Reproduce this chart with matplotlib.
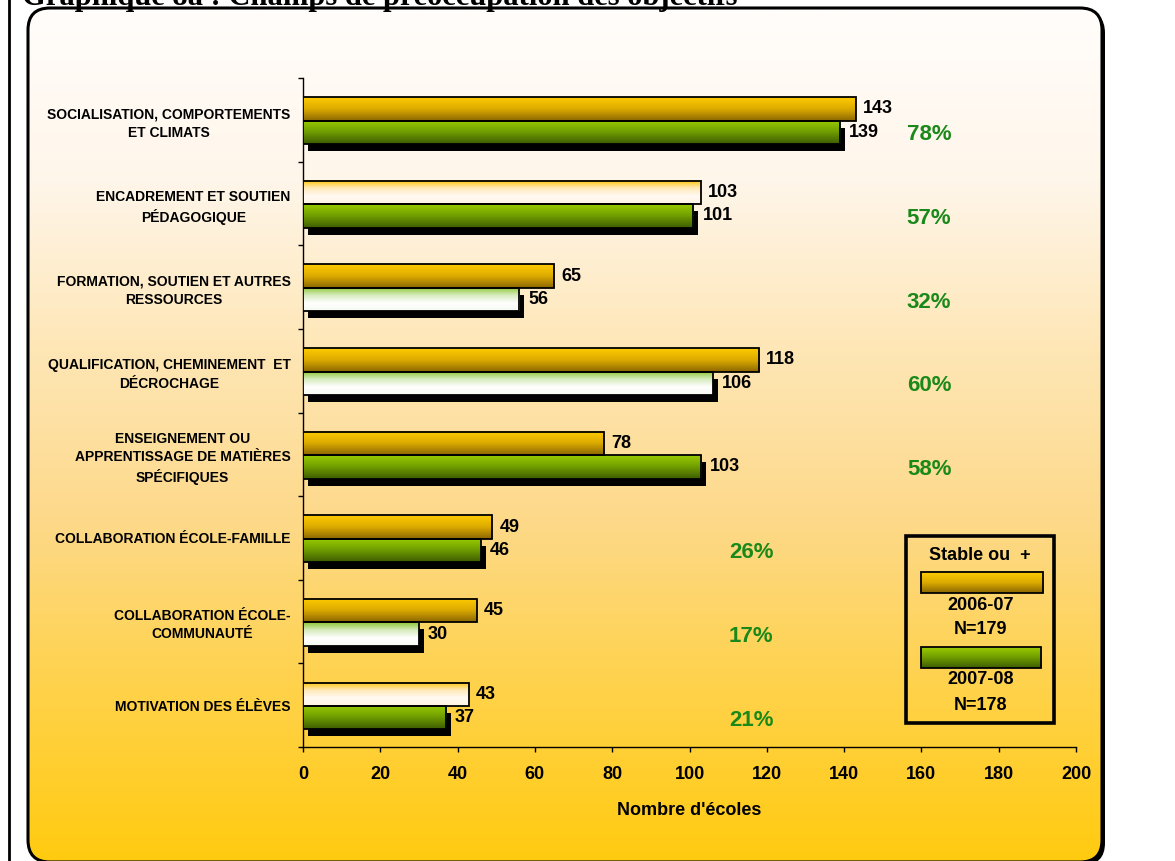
"""
Graphique 8a : champs de préoccupation des objectifs (barres horizontales, 2 années).
"""
import numpy as np
import matplotlib
matplotlib.use("Agg")
import matplotlib.pyplot as plt
from matplotlib.colors import LinearSegmentedColormap
from matplotlib.patches import FancyBboxPatch, Rectangle
from matplotlib.transforms import offset_copy

# --- données -------------------------------------------------------------
categories = [
    "SOCIALISATION, COMPORTEMENTS\nET CLIMATS",
    "ENCADREMENT ET SOUTIEN\nPÉDAGOGIQUE",
    "FORMATION, SOUTIEN ET AUTRES\nRESSOURCES",
    "QUALIFICATION, CHEMINEMENT  ET\nDÉCROCHAGE",
    "ENSEIGNEMENT OU\nAPPRENTISSAGE DE MATIÈRES\nSPÉCIFIQUES",
    "COLLABORATION ÉCOLE-FAMILLE",
    "COLLABORATION ÉCOLE-\nCOMMUNAUTÉ",
    "MOTIVATION DES ÉLÈVES",
]
ecoles_0607 = [143, 103, 65, 118, 78, 49, 45, 43]
ecoles_0708 = [139, 101, 56, 106, 103, 46, 30, 37]
pct_stable = [78, 57, 32, 60, 58, 26, 17, 21]
# barres "pâles" (dégradé vers le blanc)
pale_0607 = [False, True, False, False, False, False, False, True]
pale_0708 = [False, False, True, True, False, False, True, False]
annees = ["2006-07", "2007-08"]
n_ecoles = [179, 178]
x_ticks = list(range(0, 201, 20))

# --- style ---------------------------------------------------------------
plt.rcParams["font.family"] = ["Liberation Sans", "DejaVu Sans"]
W, H = 1175, 861

GOLD = ["#ffcc00", "#dcaa00", "#8a6600"]
GOLD_PALE = ["#ffc400", "#ffe9b8", "#fffaf2", "#fff3e3"]
GREEN = ["#9acc00", "#6f9c00", "#3e5c00"]
GREEN_PALE = ["#8cc630", "#d6ebbd", "#ffffff", "#f6faf0"]
BG = ["#fffdfb", "#fff6ea", "#fee6b5", "#fdd98a", "#ffd24a", "#ffcb10"]


def _grad(colors, n=128):
    cmap = LinearSegmentedColormap.from_list("g", colors)
    return cmap(np.linspace(0, 1, n))[:, None, :]


def _fill_bar(ax, patch, colors, zorder=3):
    """Remplir un rectangle de barre avec un dégradé vertical (haut -> bas)."""
    x0, y0 = patch.get_x(), patch.get_y()
    w, h = patch.get_width(), patch.get_height()
    ax.imshow(_grad(colors), extent=(x0, x0 + w, y0 + h, y0), origin="upper",
              aspect="auto", zorder=zorder, interpolation="bilinear")


fig = plt.figure(figsize=(W / 100, H / 100), dpi=100, facecolor="white")

# fond : cadre arrondi dégradé
bg = fig.add_axes([0, 0, 1, 1], zorder=0)
bg.set_xlim(0, W)
bg.set_ylim(H, 0)
bg.axis("off")
bg.plot([9, 9], [0, H], color="black", lw=2)
shadow = FancyBboxPatch((31, 11), 1074, 854, boxstyle="round,pad=0,rounding_size=22",
                        fc="black", ec="none")
bg.add_patch(shadow)
panel = FancyBboxPatch((28, 8), 1074, 854, boxstyle="round,pad=0,rounding_size=22",
                       fc="none", ec="black", lw=2.2, zorder=3)
bg.add_patch(panel)
im = bg.imshow(_grad(BG), extent=(28, 1102, 862, 8), aspect="auto", zorder=2,
               interpolation="bilinear")
im.set_clip_path(panel)
bg.set_xlim(0, W)
bg.set_ylim(H, 0)
fig.text(22 / W, 1 - 5 / H, "Graphique 8a : Champs de préoccupation des objectifs",
         family=["Liberation Serif", "DejaVu Serif"], weight="bold", fontsize=22,
         ha="left", va="baseline")

# graphique principal
ax = fig.add_axes([303 / W, 1 - 747 / H, 773 / W, 669 / H], zorder=2)
ax.set_facecolor("none")
y = np.arange(len(categories))
h = 0.28
y_a = y - 0.13
y_b = y + 0.15

# ombre portée sous les barres 2007-08
sh = ax.barh(y_b, ecoles_0708, height=h, color="black", zorder=2)
off = offset_copy(ax.transData, fig=fig, x=5, y=-7, units="dots")
for p in sh:
    p.set_transform(off)

bars_a = ax.barh(y_a, ecoles_0607, height=h, fc="none", ec="black", lw=1.3, zorder=4)
bars_b = ax.barh(y_b, ecoles_0708, height=h, fc="none", ec="black", lw=1.3, zorder=4)
for p, pale in zip(bars_a, pale_0607):
    _fill_bar(ax, p, GOLD_PALE if pale else GOLD)
for p, pale in zip(bars_b, pale_0708):
    _fill_bar(ax, p, GREEN_PALE if pale else GREEN)

for yi, v in zip(y_a, ecoles_0607):
    ax.annotate(str(v), xy=(v, yi), xytext=(5, 0), textcoords="offset points",
                ha="left", va="center", fontsize=13, weight="bold", zorder=5)
for yi, v in zip(y_b, ecoles_0708):
    ax.annotate(str(v), xy=(v, yi), xytext=(6.5, 0), textcoords="offset points",
                ha="left", va="center", fontsize=13, weight="bold", zorder=5)

for i, p in enumerate(pct_stable):
    px = 162 if i < 5 else 116
    ax.text(px, i + 0.18, f"{p}%", ha="center", va="center", color="#1a891a",
            fontsize=16, weight="bold", zorder=5)

ax.set_xlim(0, 200)
ax.set_ylim(len(categories) - 0.5, -0.5)
ax.set_xticks(x_ticks)
ax.set_xticklabels([str(t) for t in x_ticks], fontsize=13, weight="bold")
ax.tick_params(axis="x", direction="out", length=3.6, width=1, pad=10)
ax.set_xlabel("Nombre d'écoles", fontsize=13, weight="bold", labelpad=14)

ax.set_yticks(y)
ax.set_yticklabels(categories, fontsize=10, weight="bold", linespacing=1.4)
for lbl in ax.get_yticklabels():
    lbl.set_multialignment("center")
ax.tick_params(axis="y", length=0, pad=9)
ax.set_yticks(np.arange(-0.5, len(categories), 1), minor=True)
ax.tick_params(axis="y", which="minor", direction="out", length=3.6, width=1)

for s in ("top", "right"):
    ax.spines[s].set_visible(False)
for s in ("left", "bottom"):
    ax.spines[s].set_linewidth(1)
    ax.spines[s].set_color("black")

# légende manuelle
lg = fig.add_axes([903 / W, 1 - 726 / H, 154 / W, 193 / H], zorder=3)
lg.set_xlim(901, 1057)
lg.set_ylim(726, 533)
lg.axis("off")
lg.add_patch(Rectangle((904, 536), 150, 187, fc="none", ec="black", lw=2.6, zorder=4))
lg.text(979, 556, "Stable ou  +", ha="center", va="center", fontsize=13, weight="bold")
for (top, colors, w), an, n in zip([(572, GOLD, 124), (647, GREEN, 122)], annees, n_ecoles):
    sw = Rectangle((919, top), w, 21, fc="none", ec="black", lw=1.3, zorder=4)
    lg.add_patch(sw)
    _fill_bar(lg, sw, colors)
    lg.text(980, top + 33, an, ha="center", va="center", fontsize=13, weight="bold")
    lg.text(980, top + 58, f"N={n}", ha="center", va="center", fontsize=13, weight="bold")
lg.set_xlim(901, 1057)
lg.set_ylim(726, 533)

fig.savefig("out.png", dpi=100, facecolor="white")
